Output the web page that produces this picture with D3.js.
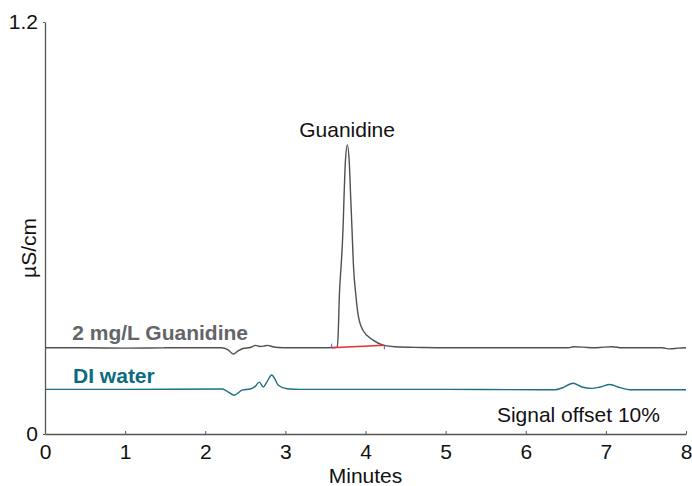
<!DOCTYPE html>
<html lang="en">
<head>
    <meta charset="UTF-8">
    <title>Guanidine chromatogram</title>
    <script src="https://d3js.org/d3.v7.min.js"></script>
    <style>
        body { margin: 0; background: #fff; }
        text { font-family: "Liberation Sans", Arial, Helvetica, sans-serif; }
    </style>
</head>
<body>
    <div id="chart"></div>
    <script>
        // traces (minutes, µS/cm)
        const guanidineMinutes = [0, 0.5, 1.0, 1.5, 2.2, 2.28, 2.35, 2.41, 2.47, 2.56, 2.63, 2.68, 2.73, 2.78, 2.83, 2.91, 3.06, 3.4, 3.62,
            3.648, 3.661, 3.673, 3.698, 3.719, 3.732, 3.748, 3.773, 3.798, 3.815, 3.832, 3.848, 3.882, 3.904, 3.966, 4.091, 4.218, 4.368,
            4.7, 5.0, 6.0, 6.52, 6.6, 6.72, 6.85, 6.97, 7.08, 7.2, 7.7, 7.8, 7.9, 8.0];
        const guanidineSignal = [0.251, 0.251, 0.250, 0.251, 0.251, 0.246, 0.233, 0.242, 0.249, 0.252, 0.258, 0.255, 0.256, 0.258, 0.255, 0.252, 0.251, 0.251, 0.252,
            0.253, 0.303, 0.399, 0.498, 0.594, 0.690, 0.789, 0.842, 0.789, 0.690, 0.594, 0.498, 0.399, 0.353, 0.303, 0.274, 0.259, 0.254,
            0.252, 0.251, 0.251, 0.251, 0.254, 0.253, 0.251, 0.253, 0.254, 0.251, 0.251, 0.248, 0.250, 0.251];

        const waterMinutes = [0, 1.0, 2.21, 2.27, 2.36, 2.41, 2.46, 2.56, 2.62, 2.675, 2.725, 2.77, 2.83, 2.87, 2.91, 3.02, 3.18,
            4.0, 5.0, 6.18, 6.37, 6.45, 6.59, 6.70, 6.82, 6.93, 7.05, 7.18, 7.30, 8.0];
        const waterSignal = [0.130, 0.130, 0.131, 0.125, 0.113, 0.120, 0.128, 0.131, 0.138, 0.151, 0.137, 0.152, 0.172, 0.160, 0.142, 0.132, 0.130,
            0.130, 0.130, 0.129, 0.129, 0.134, 0.148, 0.137, 0.133, 0.137, 0.144, 0.135, 0.129, 0.129];

        // integration baseline of the guanidine peak
        const peakStart = [3.578, 0.2514];
        const peakEnd = [4.235, 0.2584];

        const xTicks = [0, 1, 2, 3, 4, 5, 6, 7, 8];
        const yTicks = [0, 1.2];

        const margin = {top: 22, right: 6, bottom: 52, left: 45};
        const width = 692 - margin.left - margin.right;
        const height = 486 - margin.top - margin.bottom;

        const svg = d3.select("#chart")
            .append("svg")
            .attr("width", 692)
            .attr("height", 486)
            .append("g")
            .attr("transform", `translate(${margin.left},${margin.top})`);

        const x = d3.scaleLinear().domain([0, 8]).range([0, width]);
        const y = d3.scaleLinear().domain([0, 1.2]).range([height, 0]);

        // axes
        const xAxis = svg.append("g")
            .attr("transform", `translate(0,${height})`)
            .call(d3.axisBottom(x).tickValues(xTicks).tickFormat(d3.format("d"))
                .tickSizeInner(-3).tickSizeOuter(0).tickPadding(10));
        xAxis.select(".domain").attr("stroke", "#555").attr("stroke-width", 1.6);
        xAxis.selectAll(".tick line").attr("stroke", "#555");
        xAxis.selectAll("text").attr("font-size", 21).attr("fill", "#111");

        const yAxis = svg.append("g")
            .call(d3.axisLeft(y).tickValues(yTicks).tickFormat(d => d === 0 ? "0" : d3.format(".1f")(d))
                .tickSizeInner(2).tickSizeOuter(0).tickPadding(5));
        yAxis.select(".domain").attr("stroke", "#555").attr("stroke-width", 1.3);
        yAxis.selectAll(".tick line").attr("stroke", "#555");
        yAxis.selectAll("text").attr("font-size", 21).attr("fill", "#111");

        svg.append("text")
            .attr("x", x(4))
            .attr("y", height + 49)
            .attr("text-anchor", "middle")
            .attr("font-size", 21)
            .attr("fill", "#111")
            .text("Minutes");

        svg.append("text")
            .attr("transform", `translate(-9,${y(0.542)}) rotate(-90)`)
            .attr("text-anchor", "middle")
            .attr("font-size", 21)
            .attr("fill", "#111")
            .text("µS/cm");

        const line = d3.line()
            .x(d => x(d[0]))
            .y(d => y(d[1]))
            .curve(d3.curveMonotoneX);

        const water = d3.zip(waterMinutes, waterSignal);
        const guanidine = d3.zip(guanidineMinutes, guanidineSignal);

        svg.append("path")
            .datum(water)
            .attr("fill", "none")
            .attr("stroke", "#1d6f84")
            .attr("stroke-width", 1.4)
            .attr("d", line);

        svg.append("path")
            .datum(guanidine)
            .attr("fill", "none")
            .attr("stroke", "#505050")
            .attr("stroke-width", 1.4)
            .attr("d", line);

        // peak baseline and start/end marks
        svg.append("line")
            .attr("x1", x(peakStart[0])).attr("y1", y(peakStart[1]))
            .attr("x2", x(peakEnd[0])).attr("y2", y(peakEnd[1]))
            .attr("stroke", "#e8302c")
            .attr("stroke-width", 1.5);
        svg.append("line")
            .attr("x1", x(peakStart[0])).attr("x2", x(peakStart[0]))
            .attr("y1", y(peakStart[1]) - 4).attr("y2", y(peakStart[1]))
            .attr("stroke", "#3a5bd0").attr("stroke-width", 1);
        svg.append("line")
            .attr("x1", x(peakEnd[0])).attr("x2", x(peakEnd[0]))
            .attr("y1", y(peakEnd[1])).attr("y2", y(peakEnd[1]) + 4)
            .attr("stroke", "#3a5bd0").attr("stroke-width", 1);

        // labels
        svg.append("text")
            .attr("x", x(3.77))
            .attr("y", y(0.865))
            .attr("text-anchor", "middle")
            .attr("font-size", 21)
            .attr("fill", "#111")
            .text("Guanidine");

        svg.append("text")
            .attr("x", x(0.34))
            .attr("y", y(0.274))
            .attr("font-size", 21)
            .attr("font-weight", "bold")
            .attr("fill", "#646567")
            .text("2 mg/L Guanidine");

        svg.append("text")
            .attr("x", x(0.35))
            .attr("y", y(0.149))
            .attr("font-size", 21)
            .attr("font-weight", "bold")
            .attr("fill", "#0e6a80")
            .text("DI water");

        svg.append("text")
            .attr("x", x(7.675))
            .attr("y", y(0.035))
            .attr("text-anchor", "end")
            .attr("font-size", 21)
            .attr("fill", "#111")
            .text("Signal offset 10%");
    </script>
</body>
</html>
